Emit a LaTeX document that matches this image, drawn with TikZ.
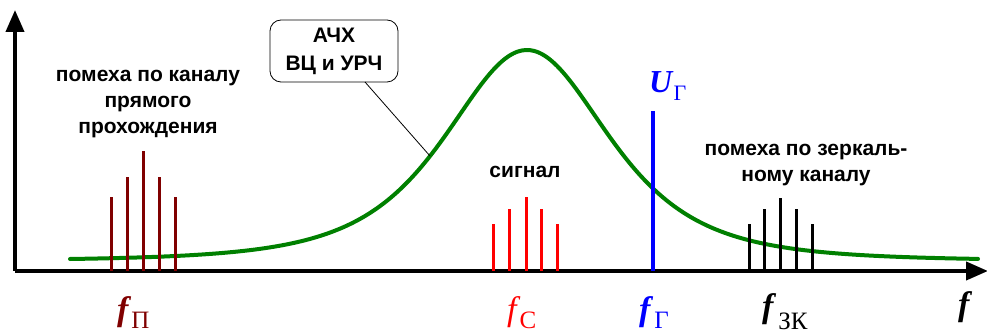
\documentclass[tikz,border=0pt]{standalone}
\usepackage{fontspec}
\setmainfont{Liberation Serif}
\newfontfamily\lsans{Liberation Sans}
\usetikzlibrary{arrows.meta}
\definecolor{dred}{RGB}{128,0,0}
\definecolor{cgreen}{RGB}{0,128,0}
\begin{document}
\begin{tikzpicture}[x=1pt,y=-1pt,
  lbl/.style={font=\lsans\bfseries\fontsize{21}{26}\selectfont, align=center, inner sep=0pt},
  axisln/.style={line width=4pt, -{Triangle[length=22pt,width=18pt]}},
  bar/.style={line width=3pt},
  fbig/.style={inner sep=0pt, anchor=base west, font=\fontsize{34}{34}\selectfont},
  callout/.style={draw, line width=0.8pt, rounded corners=11pt, minimum width=128pt, minimum height=62pt, align=center, font=\lsans\bfseries\fontsize{21}{28}\selectfont}
]
\useasboundingbox (0,0) rectangle (987,336);
\coordinate (O) at (15,271);
\coordinate (ytop) at (15,10);
\coordinate (xend) at (988,271);
% green curve
\draw[cgreen, line width=4pt, line cap=round] plot[domain=70:978, samples=220, smooth] (\x, {261 - 211/(1+((\x-527)/150)^2)^2});
% axes
\draw[axisln] (O) -- (ytop);
\draw[axisln] (O) -- (xend);
% dark red bars
\foreach \x/\t in {111/197,127/177,143/151,159/177,175/197}
  \draw[bar, dred] (\x,271) -- (\x,\t);
% red bars
\foreach \x/\t in {493/224,509/209,526/197,541/209,557/224}
  \draw[bar, red] (\x,271) -- (\x,\t);
% black bars
\foreach \x/\t in {749/224,764/209,780/198,796/209,812/224}
  \draw[bar, black] (\x,271) -- (\x,\t);
% blue line
\draw[blue, line width=4pt] (653,271) -- (653,111);
% labels
\node[lbl] (pp) at (148,104) {помеха по каналу\\прямого\\прохождения};
\node[lbl] (sig) at (525,172) {сигнал};
\node[lbl] (pz) at (806,165) {помеха по зеркаль-\\ному каналу};
\node[callout] (box) at (334,51) {АЧХ\\ВЦ и УРЧ};
\coordinate (cv) at (430,156);
\draw[line width=0.8pt] (365,82) -- (cv);
% U_G
\node[inner sep=0pt, anchor=base west, blue, font=\fontsize{32}{32}\selectfont] (ug) at (649,93) {\textbf{\textit{U}}\raisebox{-8pt}{\fontsize{22}{22}\selectfont Г}};
% bottom labels
\node[fbig, dred] (fp) at (117,320) {\textbf{\textit{f}}\raisebox{-8pt}{\fontsize{25}{25}\selectfont П}};
\node[fbig, red] (fc) at (507,320) {\textit{f}\kern-1pt\raisebox{-8pt}{\fontsize{25}{25}\selectfont С}};
\node[fbig, blue] (fg) at (639,320) {\textbf{\textit{f}}\kern1pt\raisebox{-8pt}{\fontsize{25}{25}\selectfont Г}};
\node[fbig, black] (fz) at (762,318) {\textbf{\textit{f}}\kern2pt\raisebox{-12pt}{\fontsize{25}{25}\selectfont ЗК}};
\node[fbig, black] (ff) at (958,316) {\textbf{\textit{f}}};
\end{tikzpicture}
\end{document}
